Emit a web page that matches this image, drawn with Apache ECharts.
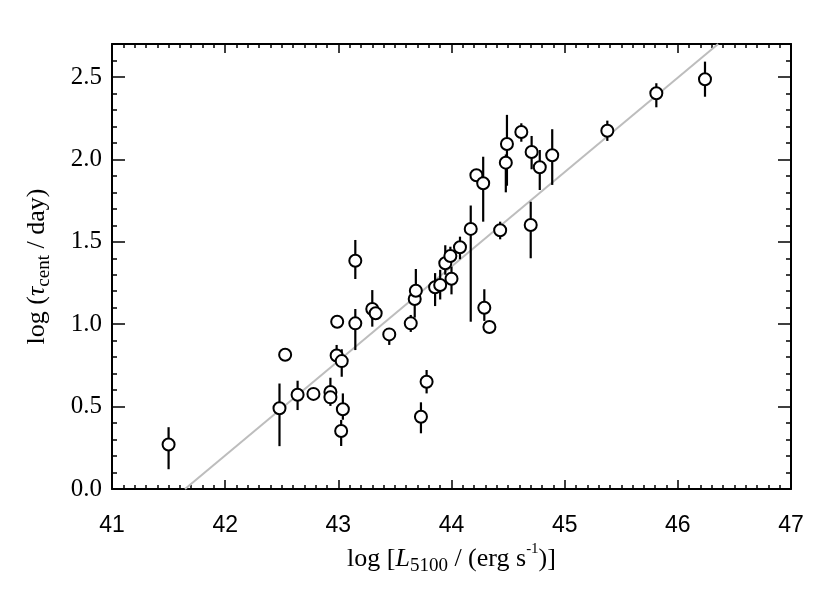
<!DOCTYPE html>
<html>
<head>
<meta charset="utf-8">
<script src="https://cdn.jsdelivr.net/npm/echarts@6/dist/echarts.min.js"></script>
<style>
  html, body { margin: 0; padding: 0; background: #fff; }
  #chart { width: 830px; height: 593px; }
</style>
</head>
<body>
<div id="chart"></div>
<script>
// log L5100 of each object
const lumX = [41.50, 42.48, 42.53, 42.64, 42.78, 42.93, 42.93, 42.99, 42.985, 43.03,
  43.04, 43.025, 43.15, 43.15, 43.30, 43.33, 43.45, 43.64, 43.675, 43.685,
  43.73, 43.78, 43.855, 43.90, 43.945, 43.99, 44.00, 44.075, 44.17, 44.22,
  44.28, 44.29, 44.335, 44.43, 44.48, 44.49, 44.617, 44.70, 44.708, 44.78,
  44.89, 45.377, 45.81, 46.24]
// log tau_cent
const tauY = [0.27, 0.49, 0.815, 0.572, 0.577, 0.589, 0.556, 1.015, 0.81, 0.776,
  0.484, 0.352, 1.005, 1.385, 1.092, 1.066, 0.938, 1.005, 1.153, 1.203,
  0.438, 0.651, 1.224, 1.238, 1.37, 1.414, 1.276, 1.467, 1.578, 1.904,
  1.855, 1.10, 0.983, 1.57, 1.98, 2.093, 2.166, 1.602, 2.045, 1.952,
  2.025, 2.174, 2.401, 2.486]
// error bar ends (upper / lower)
const tauHi = [0.375, 0.64, 0.835, 0.657, 0.60, 0.675, 0.58, 1.03, 0.874, 0.848,
  0.58, 0.419, 1.092, 1.511, 1.207, 1.09, 0.975, 1.056, 1.21, 1.335,
  0.526, 0.722, 1.31, 1.33, 1.479, 1.47, 1.349, 1.531, 1.72, 1.93,
  2.016, 1.212, 1.01, 1.622, 2.03, 2.27, 2.219, 1.743, 2.142, 2.057,
  2.183, 2.235, 2.462, 2.593]
const tauLo = [0.12, 0.26, 0.79, 0.479, 0.545, 0.56, 0.504, 1.0, 0.772, 0.681,
  0.42, 0.261, 0.843, 1.274, 0.985, 1.04, 0.874, 0.953, 1.04, 1.15,
  0.338, 0.58, 1.11, 1.15, 1.30, 1.36, 1.181, 1.394, 1.015, 1.88,
  1.622, 1.02, 0.95, 1.515, 1.80, 1.84, 2.107, 1.40, 1.94, 1.814,
  1.845, 2.112, 2.316, 2.38]
// best-fit line end points
const fitX = [41.645, 46.356]
const fitY = [0, 2.7]

const xTicks = { min: 41, max: 47, interval: 1 }
const yTicks = { min: 0, max: 2.7, interval: 0.5, minor: 0.1 }

const chart = echarts.init(document.getElementById('chart'), null, { renderer: 'canvas' })

const serif = 'Liberation Serif'
const black = '#000'
const lineStyle = { color: black, width: 2 }

function yLabel(v) {
  const k = v / yTicks.interval
  return Math.abs(k - Math.round(k)) < 1e-6 ? v.toFixed(1) : ''
}

const option = {
  animation: false,
  backgroundColor: '#fff',
  grid: { left: 112, right: 39, top: 44, bottom: 104 },
  xAxis: [
    {
      type: 'value', position: 'bottom',
      min: xTicks.min, max: xTicks.max, interval: xTicks.interval,
      axisLine: { show: true, onZero: false, lineStyle },
      axisTick: { show: true, inside: true, length: 9, lineStyle: { color: black, width: 1.5 } },
      minorTick: { show: true, splitNumber: 10, length: 4, lineStyle: { color: black, width: 1.5 } },
      splitLine: { show: false },
      axisLabel: { margin: 25, color: black, fontFamily: 'Liberation Sans', fontSize: 23 },
      name: 'log [{i|L}{sub|5100} / (erg s{sup|-1})]',
      nameLocation: 'middle', nameGap: 50,
      nameTextStyle: {
        color: black, fontFamily: serif, fontSize: 26, lineHeight: 34,
        rich: {
          i: { fontFamily: serif, fontSize: 26, fontStyle: 'italic', color: black },
          sub: { fontFamily: serif, fontSize: 19, lineHeight: 19, verticalAlign: 'bottom', color: black },
          sup: { fontFamily: serif, fontSize: 15, lineHeight: 15, verticalAlign: 'top', color: black }
        }
      }
    },
    {
      type: 'value', position: 'top',
      min: xTicks.min, max: xTicks.max, interval: xTicks.interval,
      axisLine: { show: true, onZero: false, lineStyle },
      axisTick: { show: true, inside: true, length: 9, lineStyle: { color: black, width: 1.5 } },
      minorTick: { show: true, splitNumber: 10, length: 4, lineStyle: { color: black, width: 1.5 } },
      splitLine: { show: false },
      axisLabel: { show: false }
    }
  ],
  yAxis: [
    {
      type: 'value', position: 'left',
      min: yTicks.min, max: yTicks.max, interval: yTicks.interval,
      axisLine: { show: true, onZero: false, lineStyle },
      axisTick: { show: true, inside: true, length: 13, lineStyle: { color: black, width: 1.5 } },
      splitLine: { show: false },
      axisLabel: { margin: 10, color: black, fontFamily: serif, fontSize: 25, formatter: yLabel },
      name: 'log ({t|τ}{sub|cent} / day)',
      nameLocation: 'middle', nameGap: 58, nameRotate: 90,
      nameTextStyle: {
        color: black, fontFamily: serif, fontSize: 26, lineHeight: 34,
        rich: {
          t: { fontFamily: serif, fontSize: 26, fontStyle: 'italic', color: black },
          sub: { fontFamily: serif, fontSize: 19, lineHeight: 19, verticalAlign: 'bottom', color: black }
        }
      }
    },
    {
      // minor ticks on the left
      type: 'value', position: 'left',
      min: yTicks.min, max: yTicks.max, interval: yTicks.minor,
      axisLine: { show: false },
      axisTick: { show: true, inside: true, length: 5, lineStyle: { color: black, width: 1.5 } },
      splitLine: { show: false },
      axisLabel: { show: false }
    },
    {
      type: 'value', position: 'right',
      min: yTicks.min, max: yTicks.max, interval: yTicks.interval,
      axisLine: { show: true, onZero: false, lineStyle },
      axisTick: { show: true, inside: true, length: 13, lineStyle: { color: black, width: 1.5 } },
      splitLine: { show: false },
      axisLabel: { show: false }
    },
    {
      type: 'value', position: 'right',
      min: yTicks.min, max: yTicks.max, interval: yTicks.minor,
      axisLine: { show: false },
      axisTick: { show: true, inside: true, length: 5, lineStyle: { color: black, width: 1.5 } },
      splitLine: { show: false },
      axisLabel: { show: false }
    }
  ],
  series: [
    {
      type: 'line',
      data: fitX.map((x, i) => [x, fitY[i]]),
      symbol: 'none',
      lineStyle: { color: '#bdbdbd', width: 2 },
      z: 1
    },
    {
      type: 'custom',
      data: lumX.map((x, i) => [x, tauLo[i], tauHi[i]]),
      renderItem: function (params, api) {
        const lo = api.coord([api.value(0), api.value(1)])
        const hi = api.coord([api.value(0), api.value(2)])
        return {
          type: 'line',
          shape: { x1: lo[0], y1: lo[1], x2: hi[0], y2: hi[1] },
          style: { stroke: black, lineWidth: 2.2 }
        }
      },
      z: 2
    },
    {
      type: 'scatter',
      data: lumX.map((x, i) => [x, tauY[i]]),
      symbol: 'circle',
      symbolSize: 12,
      itemStyle: { color: '#fff', borderColor: black, borderWidth: 2, opacity: 1 },
      z: 3
    }
  ]
}

chart.setOption(option)
</script>
</body>
</html>
